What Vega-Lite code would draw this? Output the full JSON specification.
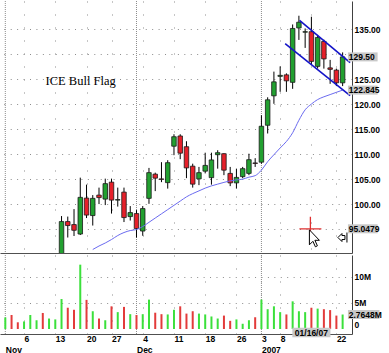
{
  "$schema": "https://vega.github.io/schema/vega-lite/v6.json",
  "padding": 0,
  "autosize": {"type": "pad"},
  "background": "white",
  "spacing": 0,
  "config": {
    "view": {"stroke": null},
    "axis": {
      "labelFont": "Liberation Sans, Arial, sans-serif",
      "labelFontSize": 8.5,
      "labelFontWeight": "bold",
      "labelColor": "#000000",
      "labelOverlap": false,
      "title": null,
      "ticks": false
    }
  },
  "datasets": {
    "days": [
      {"date": "2006-11-01", "i": 0, "vol_m": 2.2, "dir": "up"},
      {"date": "2006-11-02", "i": 1, "vol_m": 2.67, "dir": "down"},
      {"date": "2006-11-03", "i": 2, "vol_m": 1.28, "dir": "down"},
      {"date": "2006-11-06", "i": 3, "vol_m": 1.44, "dir": "up"},
      {"date": "2006-11-07", "i": 4, "vol_m": 2.67, "dir": "up"},
      {"date": "2006-11-08", "i": 5, "vol_m": 1.67, "dir": "up"},
      {"date": "2006-11-09", "i": 6, "vol_m": 3.06, "dir": "down"},
      {"date": "2006-11-10", "i": 7, "vol_m": 2.0, "dir": "up"},
      {"date": "2006-11-13", "i": 8, "vol_m": 1.83, "dir": "up"},
      {"date": "2006-11-14", "i": 9, "o": 89.8, "h": 97.6, "l": 89.3, "c": 96.5, "vol_m": 5.72, "dir": "up"},
      {"date": "2006-11-15", "i": 10, "o": 96.5, "h": 97.5, "l": 93.3, "c": 95.7, "vol_m": 4.06, "dir": "down"},
      {"date": "2006-11-16", "i": 11, "o": 95.9, "h": 99.0, "l": 93.6, "c": 94.75, "vol_m": 3.67, "dir": "down"},
      {"date": "2006-11-17", "i": 12, "o": 94.0, "h": 105.3, "l": 93.8, "c": 101.35, "vol_m": 12.28, "dir": "up"},
      {"date": "2006-11-20", "i": 13, "o": 101.2, "h": 103.9, "l": 97.2, "c": 97.8, "vol_m": 5.56, "dir": "down"},
      {"date": "2006-11-21", "i": 14, "o": 97.7, "h": 101.8, "l": 95.7, "c": 101.15, "vol_m": 3.39, "ma": 90.9, "dir": "up"},
      {"date": "2006-11-22", "i": 15, "o": 101.8, "h": 103.3, "l": 100.0, "c": 101.3, "vol_m": 2.0, "ma": 91.6, "dir": "down"},
      {"date": "2006-11-24", "i": 16, "o": 101.0, "h": 105.1, "l": 99.8, "c": 104.1, "vol_m": 1.67, "ma": 92.2, "dir": "up"},
      {"date": "2006-11-27", "i": 17, "o": 104.4, "h": 105.1, "l": 98.1, "c": 100.8, "vol_m": 4.33, "ma": 92.9, "dir": "down"},
      {"date": "2006-11-28", "i": 18, "o": 100.8, "h": 103.3, "l": 99.5, "c": 100.9, "vol_m": 3.22, "ma": 93.7, "dir": "up"},
      {"date": "2006-11-29", "i": 19, "o": 102.4, "h": 103.3, "l": 96.4, "c": 97.3, "vol_m": 4.22, "ma": 94.3, "dir": "down"},
      {"date": "2006-11-30", "i": 20, "o": 97.5, "h": 99.6, "l": 96.7, "c": 98.3, "vol_m": 2.83, "ma": 94.7, "dir": "up"},
      {"date": "2006-12-01", "i": 21, "o": 98.1, "h": 98.8, "l": 93.3, "c": 95.1, "vol_m": 2.67, "ma": 94.9, "dir": "down"},
      {"date": "2006-12-04", "i": 22, "o": 94.6, "h": 99.6, "l": 93.65, "c": 99.1, "vol_m": 2.83, "ma": 95.5, "dir": "up"},
      {"date": "2006-12-05", "i": 23, "o": 101.15, "h": 107.25, "l": 100.05, "c": 106.3, "vol_m": 5.61, "ma": 96.35, "dir": "up"},
      {"date": "2006-12-06", "i": 24, "o": 106.0, "h": 106.3, "l": 102.6, "c": 105.2, "vol_m": 3.11, "ma": 97.2, "dir": "down"},
      {"date": "2006-12-07", "i": 25, "o": 105.05, "h": 108.4, "l": 104.4, "c": 104.95, "vol_m": 2.83, "ma": 98.05, "dir": "down"},
      {"date": "2006-12-08", "i": 26, "o": 104.3, "h": 108.8, "l": 103.1, "c": 108.3, "vol_m": 2.78, "ma": 98.9, "dir": "up"},
      {"date": "2006-12-11", "i": 27, "o": 111.6, "h": 114.0, "l": 109.8, "c": 113.5, "vol_m": 3.67, "ma": 99.75, "dir": "up"},
      {"date": "2006-12-12", "i": 28, "o": 113.65, "h": 114.0, "l": 109.0, "c": 110.2, "vol_m": 4.33, "ma": 100.6, "dir": "down"},
      {"date": "2006-12-13", "i": 29, "o": 111.5, "h": 112.6, "l": 105.2, "c": 107.25, "vol_m": 2.94, "ma": 101.45, "dir": "down"},
      {"date": "2006-12-14", "i": 30, "o": 107.6, "h": 108.1, "l": 103.3, "c": 104.0, "vol_m": 3.39, "ma": 102.1, "dir": "down"},
      {"date": "2006-12-15", "i": 31, "o": 105.05, "h": 107.45, "l": 103.8, "c": 106.3, "vol_m": 2.94, "ma": 102.65, "dir": "up"},
      {"date": "2006-12-18", "i": 32, "o": 106.6, "h": 110.3, "l": 106.15, "c": 107.75, "vol_m": 2.78, "ma": 103.2, "dir": "up"},
      {"date": "2006-12-19", "i": 33, "o": 105.3, "h": 110.3, "l": 103.9, "c": 108.85, "vol_m": 2.39, "ma": 103.65, "dir": "up"},
      {"date": "2006-12-20", "i": 34, "o": 109.9, "h": 110.8, "l": 107.1, "c": 110.3, "vol_m": 2.0, "ma": 104.0, "dir": "up"},
      {"date": "2006-12-21", "i": 35, "o": 110.1, "h": 110.2, "l": 105.8, "c": 106.8, "vol_m": 2.56, "ma": 104.35, "dir": "down"},
      {"date": "2006-12-22", "i": 36, "o": 106.15, "h": 107.45, "l": 103.6, "c": 104.25, "vol_m": 1.56, "ma": 104.65, "dir": "down"},
      {"date": "2006-12-26", "i": 37, "o": 104.25, "h": 107.1, "l": 103.1, "c": 105.35, "vol_m": 1.83, "ma": 104.85, "dir": "up"},
      {"date": "2006-12-27", "i": 38, "o": 105.5, "h": 107.45, "l": 105.2, "c": 107.1, "vol_m": 1.0, "ma": 105.0, "dir": "up"},
      {"date": "2006-12-28", "i": 39, "o": 106.15, "h": 110.1, "l": 105.8, "c": 108.9, "vol_m": 1.67, "ma": 105.4, "dir": "up"},
      {"date": "2006-12-29", "i": 40, "o": 108.25, "h": 109.2, "l": 107.45, "c": 108.15, "vol_m": 2.22, "ma": 105.7, "dir": "down"},
      {"date": "2007-01-03", "i": 41, "o": 108.4, "h": 117.8, "l": 108.1, "c": 115.6, "vol_m": 5.61, "ma": 106.8, "dir": "up"},
      {"date": "2007-01-04", "i": 42, "o": 115.8, "h": 121.4, "l": 114.15, "c": 120.9, "vol_m": 3.78, "ma": 108.5, "dir": "up"},
      {"date": "2007-01-05", "i": 43, "o": 121.7, "h": 126.55, "l": 120.1, "c": 124.5, "vol_m": 4.33, "ma": 109.9, "dir": "up"},
      {"date": "2007-01-08", "i": 44, "o": 125.6, "h": 127.6, "l": 122.5, "c": 125.8, "vol_m": 3.22, "ma": 111.25, "dir": "up"},
      {"date": "2007-01-09", "i": 45, "o": 125.9, "h": 126.2, "l": 122.5, "c": 124.7, "vol_m": 2.78, "ma": 112.55, "dir": "down"},
      {"date": "2007-01-10", "i": 46, "o": 124.4, "h": 136.0, "l": 123.1, "c": 135.2, "vol_m": 5.28, "ma": 114.3, "dir": "up"},
      {"date": "2007-01-11", "i": 47, "o": 135.3, "h": 137.75, "l": 132.9, "c": 136.45, "vol_m": 3.39, "ma": 116.8, "dir": "up"},
      {"date": "2007-01-12", "i": 48, "o": 134.45, "h": 135.2, "l": 131.3, "c": 134.55, "vol_m": 3.22, "ma": 118.9, "dir": "up"},
      {"date": "2007-01-16", "i": 49, "o": 134.55, "h": 137.55, "l": 127.95, "c": 128.6, "vol_m": 4.06, "ma": 120.05, "dir": "down"},
      {"date": "2007-01-17", "i": 50, "o": 127.6, "h": 133.9, "l": 127.15, "c": 133.4, "vol_m": 3.89, "ma": 120.95, "dir": "up"},
      {"date": "2007-01-18", "i": 51, "o": 132.6, "h": 132.95, "l": 127.15, "c": 129.1, "vol_m": 3.78, "ma": 121.5, "dir": "down"},
      {"date": "2007-01-19", "i": 52, "o": 127.3, "h": 128.9, "l": 124.1, "c": 127.0, "vol_m": 3.61, "ma": 121.95, "dir": "down"},
      {"date": "2007-01-22", "i": 53, "o": 126.85, "h": 127.15, "l": 123.65, "c": 124.3, "vol_m": 2.56, "ma": 122.4, "dir": "down"},
      {"date": "2007-01-23", "i": 54, "o": 124.3, "h": 130.4, "l": 123.65, "c": 129.5, "vol_m": 2.7648, "ma": 122.845, "dir": "up"}
    ],
    "months": [{"i": 0, "month": "Nov"}, {"i": 21, "month": "Dec"}, {"i": 41, "month": "Jan 2007"}],
    "flag": [
      {"edge": "upper", "i": 47.1, "p": 136.8},
      {"edge": "upper", "i": 55.2, "p": 128.35},
      {"edge": "lower", "i": 44.8, "p": 132.17},
      {"edge": "lower", "i": 55.2, "p": 121.74}
    ],
    "notes": [{"i": 6.45, "p": 124.58, "label": "ICE Bull Flag"}],
    "cursor": [{"i": 49, "p": 95.0479}],
    "icon": [{"i": 54.05, "p": 93.3}],
    "priceTags": [
      {"p": 129.5, "label": "129.50"},
      {"p": 122.845, "label": "122.845"},
      {"p": 95.0479, "label": "95.0479"}
    ],
    "volTags": [{"v": 2.7648, "label": "2.7648M"}],
    "dateTags": [{"i": 49, "label": "01/16/07"}]
  },
  "vconcat": [
    {
      "width": 352,
      "height": 252,
      "layer": [
        {
          "data": {"name": "months"},
          "mark": {"type": "rule", "color": "#8c8c8c", "strokeDash": [1, 1], "strokeWidth": 1},
          "encoding": {
            "x": {
              "field": "i", "type": "quantitative",
              "scale": {"domain": [-0.05, 54.7], "nice": false, "zero": false},
              "axis": {
                "orient": "bottom", "values": [3, 8, 13, 17, 22, 27, 32, 37, 44, 49, 53], "tickCount": 40,
                "labels": false, "ticks": false, "domain": true, "domainColor": "#505050",
                "grid": true, "gridDash": [1, 12], "gridColor": "#8c8c8c", "title": null
              }
            }
          }
        },
        {
          "data": {"name": "days"},
          "transform": [{"filter": "isValid(datum.h)"}],
          "mark": {"type": "rule", "color": "#000000", "strokeWidth": 1, "clip": true},
          "encoding": {
            "x": {"field": "i", "type": "quantitative", "scale": {"domain": [-0.05, 54.7], "nice": false, "zero": false}},
            "y": {
              "field": "l", "type": "quantitative",
              "scale": {"domain": [91.2, 139.7], "nice": false, "zero": false},
              "axis": {
                "orient": "right", "values": [95, 100, 105, 110, 115, 120, 125, 130, 135], "tickCount": 40,
                "grid": true, "gridDash": [1, 5.43], "gridColor": "#8c8c8c",
                "domain": true, "domainColor": "#404040", "ticks": false,
                "labelAlign": "left", "labelPadding": 2, "labelOverlap": false,
                "format": ".2f",
                "labelOpacity": {"condition": {"test": "datum.value == 95 || datum.value == 130", "value": 0}, "value": 1},
                "title": null
              }
            },
            "y2": {"field": "h"}
          }
        },
        {
          "data": {"name": "days"},
          "transform": [{"filter": "isValid(datum.o)"}],
          "mark": {"type": "bar", "size": 4.5, "stroke": "#1a1a1a", "strokeWidth": 0.8, "clip": true},
          "encoding": {
            "x": {"field": "i", "type": "quantitative", "scale": {"domain": [-0.05, 54.7], "nice": false, "zero": false}},
            "y": {"field": "o", "type": "quantitative", "scale": {"domain": [91.2, 139.7], "nice": false, "zero": false}},
            "y2": {"field": "c"},
            "color": {"condition": {"test": "datum.dir == 'up'", "value": "#22a030"}, "value": "#e6202a"}
          }
        },
        {
          "data": {"name": "days"},
          "transform": [{"filter": "isValid(datum.ma)"}],
          "mark": {"type": "line", "color": "#6b6bf0", "strokeWidth": 1, "clip": true, "interpolate": "monotone"},
          "encoding": {
            "x": {"field": "i", "type": "quantitative", "scale": {"domain": [-0.05, 54.7], "nice": false, "zero": false}},
            "y": {"field": "ma", "type": "quantitative", "scale": {"domain": [91.2, 139.7], "nice": false, "zero": false}}
          }
        },
        {
          "data": {"name": "flag"},
          "mark": {"type": "line", "color": "#1414c8", "strokeWidth": 1.6, "clip": true},
          "encoding": {
            "x": {"field": "i", "type": "quantitative", "scale": {"domain": [-0.05, 54.7], "nice": false, "zero": false}},
            "y": {"field": "p", "type": "quantitative", "scale": {"domain": [91.2, 139.7], "nice": false, "zero": false}},
            "detail": {"field": "edge"}
          }
        },
        {
          "data": {"name": "notes"},
          "mark": {"type": "text", "font": "Liberation Serif, DejaVu Serif, serif", "fontSize": 12.5, "align": "left", "baseline": "middle", "color": "#000000"},
          "encoding": {
            "x": {"field": "i", "type": "quantitative", "scale": {"domain": [-0.05, 54.7], "nice": false, "zero": false}},
            "y": {"field": "p", "type": "quantitative", "scale": {"domain": [91.2, 139.7], "nice": false, "zero": false}},
            "text": {"field": "label"}
          }
        },
        {
          "data": {"name": "cursor"},
          "mark": {"type": "point", "shape": "M-12,0H10M-1,-12V8", "size": 4, "color": "#e03030", "strokeWidth": 1.3, "filled": false, "opacity": 1},
          "encoding": {
            "x": {"field": "i", "type": "quantitative", "scale": {"domain": [-0.05, 54.7], "nice": false, "zero": false}},
            "y": {"field": "p", "type": "quantitative", "scale": {"domain": [91.2, 139.7], "nice": false, "zero": false}}
          }
        },
        {
          "data": {"name": "cursor"},
          "mark": {"type": "point", "shape": "M-2,1L-2,16L1.5,12.5L4,18L6,17L3.5,11.5L8,11.5Z", "size": 4, "filled": true, "fill": "#ffffff", "stroke": "#000000", "strokeWidth": 1, "opacity": 1},
          "encoding": {
            "x": {"field": "i", "type": "quantitative", "scale": {"domain": [-0.05, 54.7], "nice": false, "zero": false}},
            "y": {"field": "p", "type": "quantitative", "scale": {"domain": [91.2, 139.7], "nice": false, "zero": false}}
          }
        },
        {
          "data": {"name": "icon"},
          "mark": {"type": "point", "shape": "M-5,0L-1,-4V-2H2V2H-1V4ZM4,-5V5", "size": 4, "filled": false, "stroke": "#000000", "strokeWidth": 1, "opacity": 1},
          "encoding": {
            "x": {"field": "i", "type": "quantitative", "scale": {"domain": [-0.05, 54.7], "nice": false, "zero": false}},
            "y": {"field": "p", "type": "quantitative", "scale": {"domain": [91.2, 139.7], "nice": false, "zero": false}}
          }
        },
        {
          "data": {"name": "priceTags"},
          "mark": {"type": "bar", "orient": "horizontal", "size": 9, "color": "#c8c8c8", "clip": false},
          "encoding": {
            "x": {"datum": 54.85, "type": "quantitative", "scale": {"domain": [-0.05, 54.7], "nice": false, "zero": false}},
            "x2": {"datum": 59.6},
            "y": {"field": "p", "type": "quantitative", "scale": {"domain": [91.2, 139.7], "nice": false, "zero": false}}
          }
        },
        {
          "data": {"name": "priceTags"},
          "mark": {"type": "text", "align": "left", "baseline": "middle", "dx": 0.5, "font": "Liberation Sans, Arial, sans-serif", "fontSize": 8.5, "fontWeight": "bold", "color": "#000000", "clip": false},
          "encoding": {
            "x": {"datum": 54.9, "type": "quantitative", "scale": {"domain": [-0.05, 54.7], "nice": false, "zero": false}},
            "y": {"field": "p", "type": "quantitative", "scale": {"domain": [91.2, 139.7], "nice": false, "zero": false}},
            "text": {"field": "label"}
          }
        }
      ]
    },
    {
      "width": 352,
      "height": 79,
      "resolve": {"axis": {"x": "independent"}},
      "layer": [
        {
          "data": {"name": "months"},
          "mark": {"type": "rule", "color": "#8c8c8c", "strokeDash": [1, 1], "strokeWidth": 1},
          "encoding": {
            "x": {
              "field": "i", "type": "quantitative",
              "scale": {"domain": [-0.05, 54.7], "nice": false, "zero": false},
              "axis": {
                "orient": "bottom",
                "values": [0, 21, 41], "tickCount": 40,
                "labelExpr": "datum.value == 0 ? 'Nov' : datum.value == 21 ? 'Dec' : '2007'",
                "labelAlign": "left", "labelBaseline": "top", "labelPadding": 11,
                "labelFlush": false, "labelOverlap": false, "labelBound": false,
                "grid": false, "ticks": false, "domain": false, "title": null
              }
            }
          }
        },
        {
          "data": {"name": "days"},
          "mark": {"type": "bar", "size": 2, "clip": true},
          "encoding": {
            "x": {
              "field": "i", "type": "quantitative",
              "scale": {"domain": [-0.05, 54.7], "nice": false, "zero": false},
              "axis": {
                "orient": "bottom",
                "values": [3, 8, 13, 17, 22, 27, 32, 37, 41, 44, 53], "tickCount": 40,
                "labelExpr": "datum.value == 3 ? '6' : datum.value == 8 ? '13' : datum.value == 13 ? '20' : datum.value == 17 ? '27' : datum.value == 22 ? '4' : datum.value == 27 ? '11' : datum.value == 32 ? '18' : datum.value == 37 ? '26' : datum.value == 41 ? '3' : datum.value == 44 ? '8' : '22'",
                "labelAlign": "left", "labelBaseline": "top", "labelPadding": 0,
                "labelFlush": false, "labelOverlap": false, "labelBound": false,
                "grid": true, "gridDash": [1, 12], "gridColor": "#8c8c8c",
                "ticks": false, "domain": true, "domainColor": "#505050", "title": null
              }
            },
            "y": {
              "field": "vol_m", "type": "quantitative",
              "scale": {"domain": [0, 13.17], "nice": false, "zero": false},
              "axis": {
                "orient": "right", "values": [0, 5, 10], "tickCount": 40,
                "grid": true, "gridDash": [1, 5.43], "gridColor": "#8c8c8c",
                "gridOpacity": {"condition": {"test": "datum.value == 0", "value": 0}, "value": 1},
                "domain": true, "domainColor": "#404040", "ticks": false,
                "labelAlign": "left", "labelPadding": 2, "labelOverlap": false,
                "labelBaseline": {"condition": {"test": "datum.value == 0", "value": "bottom"}, "value": "middle"},
                "labelExpr": "datum.value == 0 ? '0' : datum.value + 'M'",
                "title": null
              }
            },
            "color": {"condition": {"test": "datum.dir == 'up'", "value": "#3be03b"}, "value": "#e33b3b"}
          }
        },
        {
          "data": {"name": "volTags"},
          "mark": {"type": "bar", "orient": "horizontal", "size": 9, "color": "#c8c8c8", "clip": false},
          "encoding": {
            "x": {"datum": 54.85, "type": "quantitative", "scale": {"domain": [-0.05, 54.7], "nice": false, "zero": false}, "axis": null},
            "x2": {"datum": 59.9},
            "y": {"field": "v", "type": "quantitative", "scale": {"domain": [0, 13.17], "nice": false, "zero": false}}
          }
        },
        {
          "data": {"name": "volTags"},
          "mark": {"type": "text", "align": "left", "baseline": "middle", "dx": 0.5, "font": "Liberation Sans, Arial, sans-serif", "fontSize": 8.5, "fontWeight": "bold", "color": "#000000", "clip": false},
          "encoding": {
            "x": {"datum": 54.9, "type": "quantitative", "scale": {"domain": [-0.05, 54.7], "nice": false, "zero": false}, "axis": null},
            "y": {"field": "v", "type": "quantitative", "scale": {"domain": [0, 13.17], "nice": false, "zero": false}},
            "text": {"field": "label"}
          }
        },
        {
          "data": {"name": "dateTags"},
          "mark": {"type": "bar", "orient": "horizontal", "size": 9.5, "color": "#c8c8c8", "clip": false},
          "encoding": {
            "x": {"datum": 45.95, "type": "quantitative", "scale": {"domain": [-0.05, 54.7], "nice": false, "zero": false}, "axis": null},
            "x2": {"datum": 52.05},
            "y": {"datum": -0.65, "type": "quantitative", "scale": {"domain": [0, 13.17], "nice": false, "zero": false}}
          }
        },
        {
          "data": {"name": "dateTags"},
          "mark": {"type": "text", "align": "center", "baseline": "middle", "font": "Liberation Sans, Arial, sans-serif", "fontSize": 8.5, "fontWeight": "bold", "color": "#000000", "clip": false},
          "encoding": {
            "x": {"field": "i", "type": "quantitative", "scale": {"domain": [-0.05, 54.7], "nice": false, "zero": false}, "axis": null},
            "y": {"datum": -0.8, "type": "quantitative", "scale": {"domain": [0, 13.17], "nice": false, "zero": false}},
            "text": {"field": "label"}
          }
        }
      ]
    }
  ]
}
